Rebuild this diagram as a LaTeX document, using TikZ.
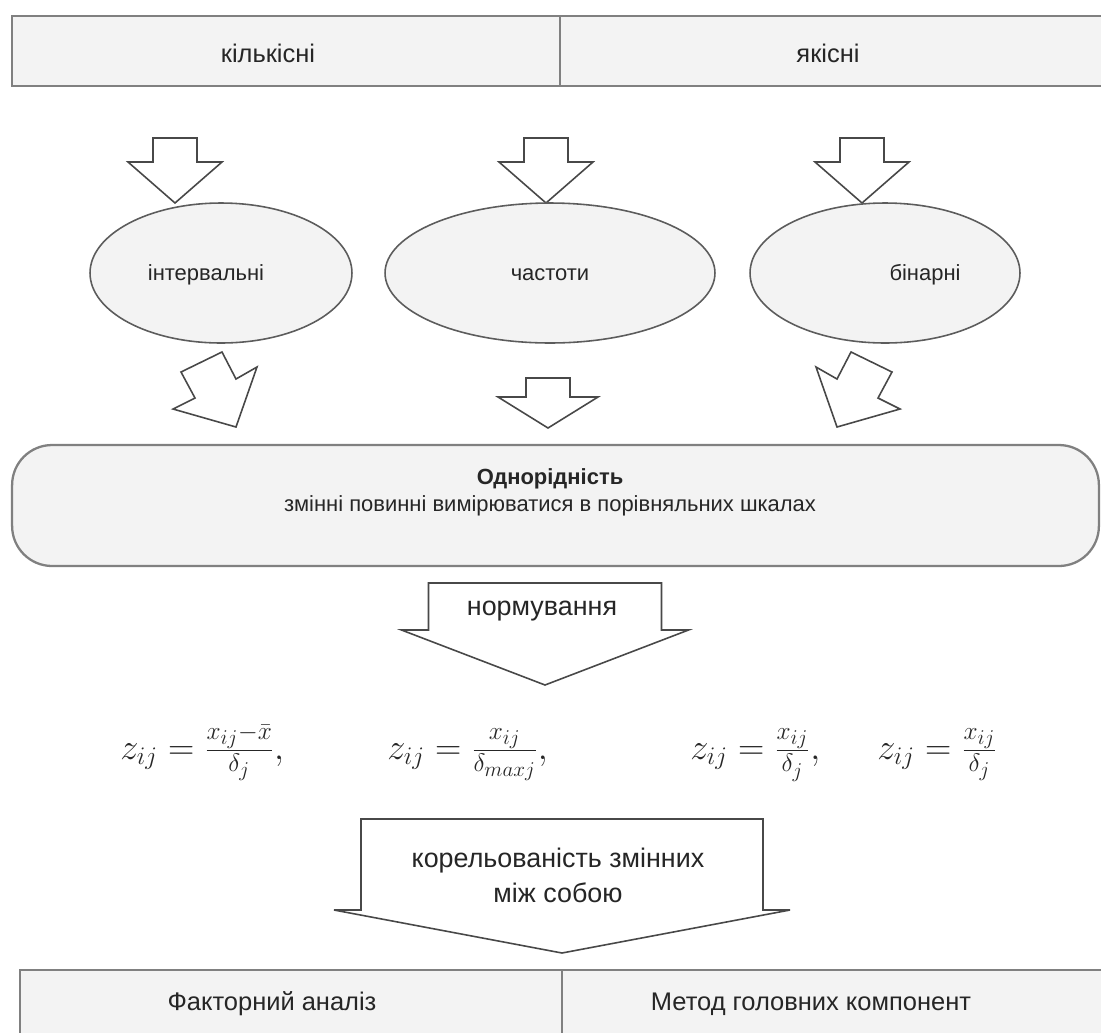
\documentclass[tikz,border=0pt]{standalone}
\usepackage{fontspec}
\setmainfont{Liberation Sans}
\usetikzlibrary{shapes.geometric, positioning}
\definecolor{cellfill}{HTML}{F3F3F3}
\definecolor{cellrule}{HTML}{808080}
\definecolor{ovalrule}{HTML}{5C5C5C}
\definecolor{arrowrule}{HTML}{484848}
\definecolor{inktext}{HTML}{262626}

% hollow arrow pointing down: x, top, half shaft, head base, half head, tip
\newcommand{\hollowdown}[6]{%
  \draw[blockarrow] ({#1-#3},#2) -- ({#1+#3},#2) -- ({#1+#3},#4) -- ({#1+#5},#4)
    -- (#1,#6) -- ({#1-#5},#4) -- ({#1-#3},#4) -- cycle;}
% tilted hollow arrow (left one, mirrored for the right one)
\newcommand{\tiltarrow}{%
  \draw[blockarrow] (181,372) -- (222,352) -- (236,379) -- (257,367)
    -- (236,427) -- (173,409) -- (195,398) -- cycle;}

\begin{document}
\begin{tikzpicture}[x=0.02cm, y=-0.02cm,
    every node/.style={font=\fontsize{12.5}{15}\selectfont, text=inktext},
    celltext/.style={font=\fontsize{14.5}{17}\selectfont},
    arrowtext/.style={align=center, font=\fontsize{15.3}{19.8}\selectfont},
    cellbox/.style={rectangle, draw=cellrule, fill=cellfill, line width=1.3pt,
                    minimum height=1.4cm, inner sep=0pt, outer sep=0pt},
    oval/.style={ellipse, draw=ovalrule, fill=cellfill, line width=0.9pt,
                 minimum height=2.8cm, inner sep=0pt},
    blockarrow/.style={draw=arrowrule, fill=white, line width=0.9pt},
    formula/.style={anchor=base west, inner sep=0pt,
                    font=\fontsize{20.74}{25}\selectfont}]
  \useasboundingbox (0,0) rectangle (1101,1032);

  % top cells
  \node[cellbox, minimum width=10.96cm] (quant) at (286,51) {};
  \node[cellbox, minimum width=10.96cm, right=0pt of quant] (qual) {};
  \node[celltext] (quanttext) at (268,53) {кількісні};
  \node[celltext] (qualtext) at (828,53) {якісні};

  \hollowdown{175}{138}{22}{162}{47}{203}
  \hollowdown{546}{138}{22}{162}{47}{203}
  \hollowdown{862}{138}{22}{162}{47}{203}

  % scale types
  \node[oval, minimum width=5.24cm] (intv) at (221,273) {};
  \node[oval, minimum width=6.6cm] (freq) at (550,273) {};
  \node[oval, minimum width=5.4cm] (bin) at (885,273) {};
  \node (intvtext) at (206,275) {інтервальні};
  \node (freqtext) at (550,275) {частоти};
  \node (bintext) at (925,275) {бінарні};

  \tiltarrow
  \begin{scope}[shift={(1073,0)}, xscale=-1]
    \tiltarrow
  \end{scope}
  \hollowdown{548}{378}{22}{397}{50}{428}

  % homogeneity
  \node[cellbox, rounded corners=0.8cm, minimum width=21.74cm,
        minimum height=2.42cm] (homo) at (555.5,505.5) {};
  \node[align=center, font=\fontsize{12.5}{15.3}\selectfont]
    (homotext) at (550,492)
    {\textbf{Однорідність}\\змінні повинні вимірюватися в порівняльних шкалах};

  \hollowdown{545}{583}{116.5}{630}{143.5}{685}
  \node[arrowtext] (norm) at (542,611) {нормування};

  % normalisation formulas
  \node[formula] (f1) at (120,759) {$z_{ij}=\frac{x_{ij}-\bar{x}}{\delta_j},$};
  \node[formula] (f2) at (387,759) {$z_{ij}=\frac{x_{ij}}{\delta_{maxj}},$};
  \node[formula] (f3) at (690,759) {$z_{ij}=\frac{x_{ij}}{\bar{\delta}_j},$};
  \node[formula] (f4) at (877,759) {$z_{ij}=\frac{x_{ij}}{\delta_j}$};

  \hollowdown{562}{819}{201}{910}{228}{953}
  \node[arrowtext] (corr) at (558,875) {корельованість змінних\\між собою};

  % methods
  \node[cellbox, minimum width=10.84cm] (fact) at (291,1005) {};
  \node[cellbox, minimum width=10.96cm, right=0pt of fact] (pca) {};
  \node[celltext] (facttext) at (272,1004) {Факторний аналіз};
  \node[celltext] (pcatext) at (811,1004) {Метод головних компонент};
\end{tikzpicture}
\end{document}
